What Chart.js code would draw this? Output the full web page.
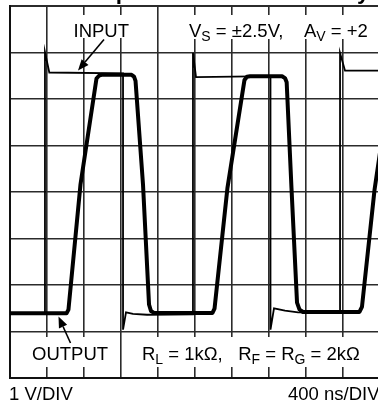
<!DOCTYPE html>
<html>
<head>
<meta charset="utf-8">
<script src="https://cdn.jsdelivr.net/npm/chart.js@4.4.1/dist/chart.umd.min.js"></script>
<style>
  html, body { margin: 0; padding: 0; background: #fff; overflow: hidden; }
  #scope { display: block; }
</style>
</head>
<body>
<canvas id="scope" width="390" height="404"></canvas>
<script>
// scope graticule: 10 x 400ns by 8 x 1V
var nsPerDiv = 400;
var voltsPerDiv = 1;
var timeDivs = 10;
var voltDivs = 8;

// input trace (thin)
var inputTimeNs = [0, 378, 378, 425, 1222, 1222, 1254, 1330, 1481, 1978, 1978, 2011, 2816, 2816, 2854, 2973, 3114, 3568, 3568, 3622, 4000];
var inputVolts  = [-2.62, -2.62, 3.01, 2.57, 2.55, -2.96, -2.59, -2.62, -2.64, -2.63, 2.99, 2.47, 2.49, -2.96, -2.50, -2.55, -2.59, -2.60, 2.99, 2.61, 2.61];

// output trace (thick)
var outputTimeNs = [0, 611, 632, 762, 935, 962, 989, 1314, 1341, 1357, 1438, 1503, 1524, 1557, 2189, 2211, 2351, 2535, 2562, 2595, 2941, 2973, 2991, 3043, 3103, 3130, 3168, 3778, 3805, 3941, 4000];
var outputVolts  = [-2.61, -2.61, -2.53, 0.16, 2.44, 2.50, 2.52, 2.52, 2.48, 2.39, 0.16, -2.42, -2.56, -2.60, -2.60, -2.51, 0.09, 2.41, 2.48, 2.49, 2.49, 2.45, 2.36, 0.09, -2.38, -2.53, -2.58, -2.58, -2.47, 0.05, 0.85];

function toPoints(xs, ys) {
  var pts = [];
  for (var i = 0; i < xs.length; i++) pts.push({x: xs[i], y: ys[i]});
  return pts;
}

var FONT = '"Liberation Sans", Arial, sans-serif';

// draw a row of text pieces, some of them as subscripts
function drawRuns(ctx, x, y, runs) {
  ctx.textAlign = 'left';
  ctx.textBaseline = 'alphabetic';
  runs.forEach(function (r) {
    ctx.font = (r.sub ? '14px ' : '18.5px ') + FONT;
    ctx.fillText(r.t, x, r.sub ? y + 4 : y);
    x += ctx.measureText(r.t).width;
  });
}

function arrow(ctx, x0, y0, x1, y1) {
  var a = Math.atan2(y1 - y0, x1 - x0);
  var len = 11, half = 4.5;
  var bx = x1 - Math.cos(a) * len, by = y1 - Math.sin(a) * len;
  ctx.beginPath();
  ctx.moveTo(x0, y0);
  ctx.lineTo(bx, by);
  ctx.lineWidth = 1.6;
  ctx.stroke();
  ctx.beginPath();
  ctx.moveTo(x1, y1);
  ctx.lineTo(bx + Math.sin(a) * half, by - Math.cos(a) * half);
  ctx.lineTo(bx - Math.sin(a) * half, by + Math.cos(a) * half);
  ctx.closePath();
  ctx.fill();
}

var scopeLabels = {
  id: 'scopeLabels',
  afterDatasetsDraw: function (chart) {
    var ctx = chart.ctx;
    ctx.save();

    // white boxes behind the in-grid notes
    ctx.fillStyle = '#fff';
    ctx.fillRect(70, 15, 60, 23);
    ctx.fillRect(186, 15, 204, 24);
    ctx.fillRect(27, 337, 91, 30);
    ctx.fillRect(132, 337, 258, 30);

    ctx.fillStyle = '#000';
    ctx.strokeStyle = '#000';
    drawRuns(ctx, 73.5, 36.5, [{t: 'INPUT'}]);
    drawRuns(ctx, 189, 36.5, [
      {t: 'V'}, {t: 'S', sub: true}, {t: ' = \u00b12.5V,    A'}, {t: 'V', sub: true}, {t: ' = +2'}
    ]);
    drawRuns(ctx, 32, 360, [{t: 'OUTPUT'}]);
    drawRuns(ctx, 142, 360, [
      {t: 'R'}, {t: 'L', sub: true}, {t: ' = 1k\u03a9,   R'}, {t: 'F', sub: true},
      {t: ' = R'}, {t: 'G', sub: true}, {t: ' = 2k\u03a9'}
    ]);

    arrow(ctx, 104, 39.5, 78, 70.5);
    arrow(ctx, 70.5, 343, 58.5, 316.5);

    drawRuns(ctx, 9, 399.5, [{t: '1 V/DIV'}]);
    drawRuns(ctx, 288, 399.5, [{t: '400 ns/DIV'}]);

    // heading, mostly above the top of the canvas
    ctx.font = 'bold 22.5px ' + FONT;
    ctx.fillText('Output Overdrive Recovery', 77, -1.5);
    ctx.restore();
  }
};

function gridWidth(c) {
  return (c.index === 0 || c.index === c.chart.scales[c.scale.id].ticks.length - 1) ? 2 : 1.6;
}

new Chart(document.getElementById('scope'), {
  type: 'line',
  data: {
    datasets: [
      {
        label: 'OUTPUT',
        data: toPoints(outputTimeNs, outputVolts),
        borderColor: '#000',
        borderWidth: 4,
        borderJoinStyle: 'round',
        borderCapStyle: 'round',
        pointRadius: 0,
        fill: false,
        tension: 0,
        order: 2
      },
      {
        label: 'INPUT',
        data: toPoints(inputTimeNs, inputVolts),
        borderColor: '#000',
        borderWidth: 1.8,
        borderJoinStyle: 'miter',
        pointRadius: 0,
        fill: false,
        tension: 0,
        order: 1
      }
    ]
  },
  options: {
    responsive: false,
    devicePixelRatio: 1,
    animation: false,
    layout: { padding: { left: 10, right: 10, top: 6, bottom: 26 } },
    plugins: {
      legend: { display: false },
      tooltip: { enabled: false },
      title: { display: false }
    },
    scales: {
      x: {
        type: 'linear',
        min: 0,
        max: nsPerDiv * timeDivs,
        ticks: { display: false, stepSize: nsPerDiv },
        grid: { color: '#2b2b2b', lineWidth: gridWidth, drawTicks: false },
        border: { display: true, color: '#111', width: 2 }
      },
      y: {
        type: 'linear',
        min: -voltsPerDiv * voltDivs / 2,
        max: voltsPerDiv * voltDivs / 2,
        ticks: { display: false, stepSize: voltsPerDiv },
        grid: { color: '#2b2b2b', lineWidth: gridWidth, drawTicks: false },
        border: { display: true, color: '#111', width: 2 }
      }
    }
  },
  plugins: [scopeLabels]
});
</script>
</body>
</html>
